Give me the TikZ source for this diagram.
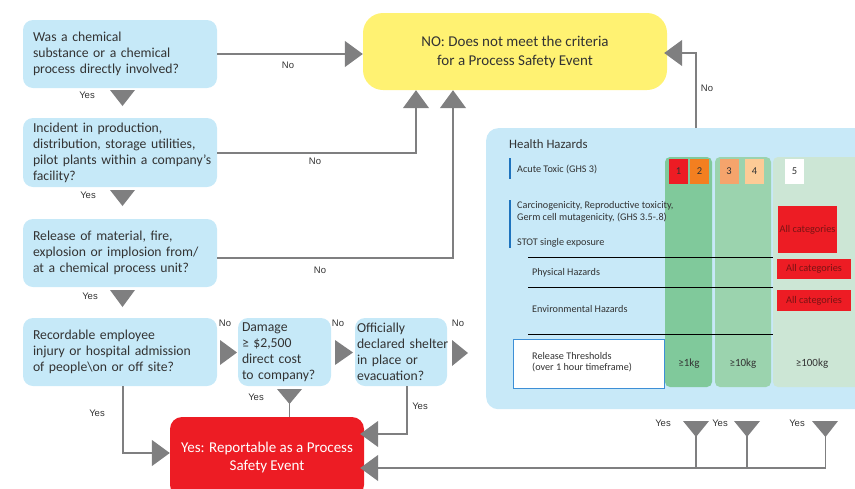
\documentclass[tikz,border=0pt]{standalone}
\usepackage{fontspec}
\setmainfont{Carlito}
\newfontfamily\labfont{Liberation Sans}
\usetikzlibrary{arrows.meta}
\newcommand\oneline[1]{\mbox{#1}}
\definecolor{boxblue}{HTML}{C6E9F8}
\definecolor{panelblue}{HTML}{C8E9F8}
\definecolor{yellowbox}{HTML}{FFF272}
\definecolor{redbox}{HTML}{ED1C24}
\definecolor{arrowgray}{HTML}{7F7F80}
\definecolor{textdark}{HTML}{333333}
\definecolor{colA}{HTML}{80C99B}
\definecolor{colB}{HTML}{9BD3AE}
\definecolor{colC}{HTML}{CCE6D5}
\definecolor{sqA}{HTML}{ED1C24}
\definecolor{sqB}{HTML}{F37F20}
\definecolor{sqC}{HTML}{F5A46C}
\definecolor{sqD}{HTML}{FDCB96}
\definecolor{catred}{HTML}{ED1C24}
\definecolor{cattext}{HTML}{7A1414}
\definecolor{barblue}{HTML}{1E73BE}
\definecolor{relborder}{HTML}{3D8FD6}
\begin{document}
\begin{tikzpicture}[x=1pt,y=-1pt,
  qbox/.style={fill=boxblue, rounded corners=10pt, align=left, text=textdark,
    font=\fontsize{13.7}{16}\selectfont, minimum height=68pt},
  conn/.style={draw=arrowgray, line width=1.3pt},
  tip/.style={-{Triangle[width=26pt,length=18pt]}},
  tri/.style={fill=arrowgray},
  lab/.style={font=\labfont\fontsize{9.5}{11}\selectfont, text=textdark, inner sep=0pt},
  small/.style={font=\fontsize{10.2}{11.5}\selectfont, text=textdark, align=left, inner sep=0pt, anchor=west},
  col/.style={rounded corners=5pt},
  sq/.style={minimum width=19pt, minimum height=25pt, inner sep=0pt, text=textdark, font=\fontsize{10.5}{12}\selectfont},
  cat/.style={fill=catred, text=cattext, inner sep=0pt, font=\fontsize{10.3}{11}\selectfont},
  thr/.style={font=\fontsize{11}{12}\selectfont, text=textdark},
  hline/.style={draw=black, line width=0.8pt}
]
\useasboundingbox (0,0) rectangle (855,488);

% ---------- Health hazards panel ----------
\node[fill=panelblue, rounded corners=12pt, minimum width=400pt, minimum height=281pt,
  anchor=north west, inner sep=0pt] (panel) at (486,128) {};
\fill[colA, col] (665,157) rectangle (712,387);
\fill[colB, col] (715,157) rectangle (771,387);
\fill[colC, col] (773,157) rectangle (860,387);

\node[font=\fontsize{12.8}{14}\selectfont, text=textdark, anchor=west, inner sep=0pt] (hh) at (509,144) {Health Hazards};
\fill[barblue] (508.5,158) rectangle (510.5,179);
\node[small] (acute) at (517,169) {Acute Toxic (GHS 3)};
\fill[barblue] (508.5,200) rectangle (510.5,248);
\node[small] (carc) at (517,212) {Carcinogenicity, Reproductive toxicity,\\Germ cell mutagenicity, (GHS 3.5-.8)};
\node[small] (stot) at (517,243) {STOT single exposure};
\draw[hline] (528,257) -- (773,257);
\node[small] (phys) at (532,273) {Physical Hazards};
\draw[hline] (528,287) -- (773,287);
\node[small] (env) at (532,309) {Environmental Hazards};
\draw[hline] (528,334) -- (773,334);
\node[draw=relborder, fill=white, line width=0.8pt, minimum width=151pt, minimum height=49pt,
  anchor=north west, inner sep=0pt] (relbox) at (513,339) {};
\node[small] (rel) at (532,362) {Release Thresholds\\(over 1 hour timeframe)};
\node[thr] (t1) at (689,364) {≥1kg};
\node[thr] (t2) at (743,364) {≥10kg};
\node[thr] (t3) at (812,364) {≥100kg};

\node[sq, fill=sqA] (s1) at (678.5,171.5) {1};
\node[sq, fill=sqB] (s2) at (699.5,171.5) {2};
\node[sq, fill=sqC] (s3) at (729,171.5) {3};
\node[sq, fill=sqD] (s4) at (754.5,171.5) {4};
\node[sq, fill=white] (s5) at (794.5,171.5) {5};

\node[cat, minimum width=59pt, minimum height=47pt] (c1) at (807.5,229.5) {All categories};
\node[cat, minimum width=74pt, minimum height=20pt] (c2) at (814,269) {All categories};
\node[cat, minimum width=74pt, minimum height=21pt] (c3) at (814,300.5) {All categories};

% ---------- Main boxes ----------
\node[qbox, text width=174pt, inner xsep=10pt] (b1) at (120,54)
  {\oneline{Was a chemical}\\\oneline{substance or a chemical}\\\oneline{process directly involved?}};
\node[qbox, text width=174pt, inner xsep=10pt, minimum height=69pt] (b2) at (120,152.5)
  {\oneline{Incident in production,}\\\oneline{distribution, storage utilities,}\\\oneline{pilot plants within a company’s}\\\oneline{facility?}};
\node[qbox, text width=174pt, inner xsep=10pt] (b3) at (120,253)
  {\oneline{Release of material, fire,}\\\oneline{explosion or implosion from/}\\\oneline{at a chemical process unit?}};
\node[qbox, text width=174pt, inner xsep=10pt] (b4) at (120,352)
  {\oneline{Recordable employee}\\\oneline{injury or hospital admission}\\\oneline{of people\textbackslash on or off site?}};
\node[qbox, text width=85pt, inner xsep=4pt] (b5) at (284.5,352)
  {\oneline{Damage}\\\oneline{≥ \$2,500}\\\oneline{direct cost}\\\oneline{to company?}};
\node[qbox, text width=88pt, inner xsep=2pt] (b6) at (401,352)
  {\oneline{Officially}\\\oneline{declared shelter}\\\oneline{in place or}\\\oneline{evacuation?}};

\node[fill=yellowbox, rounded corners=20pt, minimum width=304pt, minimum height=77pt,
  align=center, text=textdark, font=\fontsize{15}{19}\selectfont] (no) at (515,51.5)
  {NO: Does not meet the criteria\\for a Process Safety Event};
\node[fill=redbox, rounded corners=12pt, minimum width=194pt, minimum height=80pt,
  align=center, text=white, font=\fontsize{15}{18}\selectfont] (yes) at (267,457)
  {Yes: Reportable as a Process\\Safety Event};

% ---------- Yes triangles between main boxes ----------
\fill[tri] (110,90) -- (135,90) -- (122.5,106) -- cycle;
\node[lab] (y1) at (87,95) {Yes};
\fill[tri] (110,190) -- (135,190) -- (122.5,206) -- cycle;
\node[lab] (y2) at (88,195) {Yes};
\fill[tri] (110,290) -- (135,290) -- (122.5,307) -- cycle;
\node[lab] (y3) at (90,296) {Yes};

% ---------- No triangles to the right ----------
\fill[tri] (220,340) -- (237,352.5) -- (220,365) -- cycle;
\node[lab] (n4) at (225,323) {No};
\fill[tri] (335,340) -- (353,352.5) -- (335,365) -- cycle;
\node[lab] (n5) at (338,323) {No};
\fill[tri] (452,340) -- (468,353) -- (452,366) -- cycle;
\node[lab] (n6) at (458,323) {No};

% ---------- No connectors to yellow box ----------
\draw[conn, tip] (b1.east |- 0,54) -- (no.west |- 0,54);
\node[lab] (n1) at (288,65) {No};
\coordinate (k2) at (416,153);
\draw[conn, tip] (b2.east |- k2) -- (k2) -- (k2 |- no.south);
\node[lab] (n2) at (315,161) {No};
\coordinate (k3) at (453,258);
\draw[conn, tip] (b3.east |- k3) -- (k3) -- (k3 |- no.south);
\node[lab] (n3) at (320,270) {No};
\coordinate (kh) at (696,53);
\draw[conn, tip, shorten >=-3pt] (panel.north -| kh) -- (kh) -- (no.east |- kh);
\node[lab] (nh) at (707,88) {No};

% ---------- Yes connectors to red box ----------
\coordinate (k4) at (123,453);
\draw[conn, tip] (b4.south -| k4) -- (k4) -- (yes.west |- k4);
\node[lab] (y4) at (97,413) {Yes};

\fill[tri] (277,389) -- (302,389) -- (289.5,404) -- cycle;
\draw[conn] (289.5,403) -- (yes.north -| 289.5,0);
\node[lab] (y5) at (256,397) {Yes};

\coordinate (k6) at (407,434);
\draw[conn, tip, shorten >=-4pt] (b6.south -| k6) -- (k6) -- (yes.east |- k6);
\node[lab] (y6) at (420,406) {Yes};

% ---------- bottom Yes connectors from panel ----------
\coordinate (bt) at (826,468);
\fill[tri] (683,421) -- (709,421) -- (696,437) -- cycle;
\fill[tri] (734,421) -- (760,421) -- (747,437) -- cycle;
\fill[tri] (812,421) -- (838,421) -- (825.5,437) -- cycle;
\draw[conn] (696,436) -- (696,468);
\draw[conn] (747,436) -- (747,468);
\draw[conn, tip, shorten >=-4pt] (825.5,436) |- (yes.east |- bt);
\node[lab] (y7) at (663,423) {Yes};
\node[lab] (y8) at (720,423) {Yes};
\node[lab] (y9) at (797,423) {Yes};
\end{tikzpicture}
\end{document}
